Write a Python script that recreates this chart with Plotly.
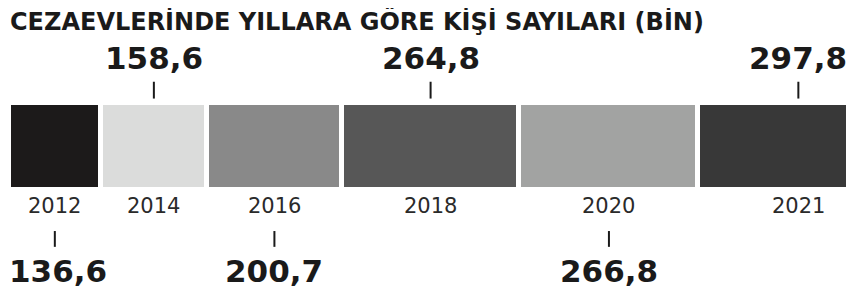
import plotly.graph_objects as go

years = ["2012", "2014", "2016", "2018", "2020", "2021"]
values = [136.6, 158.6, 200.7, 264.8, 266.8, 297.8]
value_labels = ["136,6", "158,6", "200,7", "264,8", "266,8", "297,8"]
label_above = [False, True, False, True, False, True]
colors = ["#1c1a1a", "#dbdcdb", "#898989", "#575757", "#a2a3a2", "#383838"]
title = "CEZAEVLERİNDE YILLARA GÖRE KİŞİ SAYILARI (BİN)"

# the page body has an 8px margin; the figure is sized to fill the rest of the window
OFF = 8
W, H = 854 - OFF, 300 - OFF
PLOT_TOP, PLOT_BOT = 102.5 - OFF, 190.5 - OFF
PH = PLOT_BOT - PLOT_TOP


def py(p):
    """window pixel y -> paper y"""
    return (PLOT_BOT - (p - OFF)) / PH


fig = go.Figure()
for yr, v, c in zip(years, values, colors):
    fig.add_trace(go.Bar(
        x=[v], y=[0], orientation="h", name=yr, width=1,
        marker=dict(color=c, line=dict(color="white", width=5)),
        hoverinfo="skip", showlegend=False,
    ))

annotations = []
shapes = []
cum = 0.0
for i, (yr, v, lab, above) in enumerate(zip(years, values, value_labels, label_above)):
    center = cum + v / 2
    cum += v
    annotations.append(dict(
        x=center, y=py(207), xref="x", yref="paper", text=yr, showarrow=False,
        xanchor="center", yanchor="middle",
        font=dict(family="DejaVu Sans", size=21, color="#2a2a2a"),
    ))
    if above:
        ty, t0, t1 = 57, 81, 98
    else:
        ty, t0, t1 = 272, 232, 248
    annotations.append(dict(
        x=center, y=py(ty), xref="x", yref="paper", text=lab, showarrow=False,
        xanchor="center", yanchor="middle", xshift=3 if i == 0 else 0,
        font=dict(family="DejaVu Sans", size=31, color="#1a1a1a", weight="bold"),
    ))
    shapes.append(dict(
        type="line", xref="x", yref="paper", x0=center, x1=center,
        y0=py(t0), y1=py(t1), line=dict(color="#1a1a1a", width=2),
    ))

annotations.append(dict(
    x=(8 - OFF) / W, y=py(19.5), xref="paper", yref="paper", text=title, showarrow=False,
    xanchor="left", yanchor="middle",
    font=dict(family="DejaVu Sans", size=24, color="#1a1a1a", weight="bold"),
))

# x axis: 0 at window px 9, 0.671 px per unit
X0_PX, K = 9 - OFF, 0.671
fig.update_layout(
    width=W, height=H, barmode="stack", bargap=0,
    margin=dict(l=0, r=0, t=PLOT_TOP, b=H - PLOT_BOT, pad=0),
    paper_bgcolor="white", plot_bgcolor="white",
    xaxis=dict(range=[-X0_PX / K, (W - X0_PX) / K], visible=False, fixedrange=True),
    yaxis=dict(range=[-0.5, 0.5], visible=False, fixedrange=True),
    annotations=annotations, shapes=shapes,
)

fig.write_html("out.html")
